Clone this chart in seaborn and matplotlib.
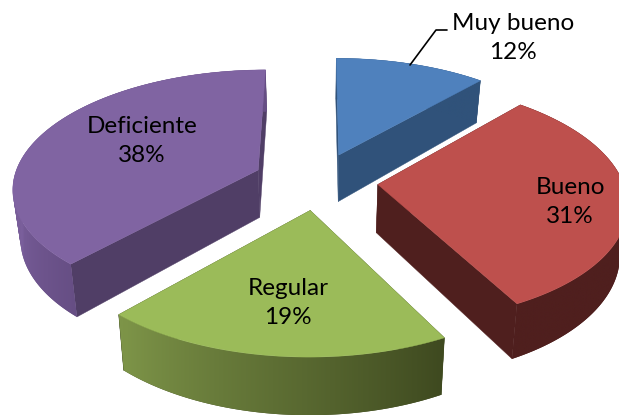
import numpy as np
import matplotlib
matplotlib.use("Agg")
import matplotlib.pyplot as plt
from matplotlib.patches import PathPatch
from matplotlib.path import Path
import seaborn as sns

categories = ["Muy bueno", "Bueno", "Regular", "Deficiente"]
shares = [11.6, 30.7, 19.4, 38.3]
percents = [12, 31, 19, 38]

top_colors = sns.color_palette(["#4F81BD", "#BE504D", "#9BBB59", "#8064A2"])
wall_colors = ["#30527A", "#4F1F1E", "#3F4A20", "#503E66"]
# outer wall colour along the part of each slice's rim that faces the viewer
outer_from = ["#30527A", "#4F1F1E", "#3F4A20", "#664E84"]
outer_to = ["#30527A", "#4F1F1E", "#7D9448", "#7E62A0"]
label_xy = [(513, 38), (570, 202), (288, 303), (142, 141)]
explode = [0.245, 0.245, 0.245, 0.265]

CX, CY = 318, 181      # pie centre on the canvas
AX, AY = 245, 117      # radii of the ellipse
PERSP = 0.14           # perspective strength
DEPTH = 48             # thickness
SHRINK = 0.975         # lower face is slightly narrower

sns.set_theme(style="white")
plt.rcParams["font.family"] = ["Lato", "DejaVu Sans"]
fig = plt.figure(figsize=(6.19, 4.15), dpi=100)
ax = fig.add_axes([0, 0, 1, 1])
ax.axis("off")


def project(X, Y, low=False):
    w = 1 / (1 - PERSP * Y)
    sx, sy = X * w * AX, Y * w * AY
    if low:
        return CX + sx * SHRINK, CY + sy + DEPTH * w
    return CX + sx, CY + sy


def blend(c0, c1, t):
    a = np.array(matplotlib.colors.to_rgb(c0))
    b = np.array(matplotlib.colors.to_rgb(c1))
    return a + (b - a) * t


def ring(pts):
    """Closed path with a fixed winding, so that overlapping parts add up."""
    x, y = pts[:, 0], pts[:, 1]
    area = np.sum(x * np.roll(y, -1) - np.roll(x, -1) * y)
    if area < 0:
        pts = pts[::-1]
    return Path(np.vstack([pts, pts[0]]), closed=True)


fractions = np.array(shares) / sum(shares)
edges = np.concatenate([[0], np.cumsum(fractions)]) * 2 * np.pi
for i in range(len(categories)):
    t0, t1 = edges[i], edges[i + 1]
    mid = (t0 + t1) / 2
    ox, oy = explode[i] * np.sin(mid), -explode[i] * np.cos(mid)
    th = np.linspace(t0, t1, 240)
    X, Y = ox + np.sin(th), oy - np.cos(th)
    tx, ty = project(X, Y)
    bx, by = project(X, Y, low=True)
    apx, apy = project(ox, oy)
    abx, aby = project(ox, oy, low=True)
    # radial walls
    for j in (0, -1):
        ax.fill([apx, tx[j], bx[j], abx], [apy, ty[j], by[j], aby],
                color=wall_colors[i], lw=0.3, zorder=2 + i)
    # outer wall outline: the union of the small strips between both faces
    parts = [ring(np.array([[tx[k], ty[k]], [tx[k + 1], ty[k + 1]],
                            [bx[k + 1], by[k + 1]], [bx[k], by[k]]]))
             for k in range(len(th) - 1)]
    outline = Path.make_compound_path(*parts)
    base = PathPatch(outline, transform=ax.transData, facecolor=outer_from[i],
                     edgecolor="none", zorder=2 + i)
    ax.add_patch(base)
    # colour ramp over the rim part that faces the viewer
    vis = (th > np.pi / 2) & (th < 3 * np.pi / 2)
    xmin, xmax = outline.vertices[:, 0].min(), outline.vertices[:, 0].max()
    ymin, ymax = outline.vertices[:, 1].min(), outline.vertices[:, 1].max()
    gx = np.linspace(xmin, xmax, 256)
    if vis.any():
        vx = bx[vis]
        order = np.argsort(vx)
        param = np.interp(gx, vx[order], np.linspace(0, 1, vis.sum())[order])
    else:
        param = np.zeros_like(gx)
    grad = np.array([[blend(outer_from[i], outer_to[i], p) for p in param]])
    im = ax.imshow(grad, extent=(xmin, xmax, ymax, ymin), aspect="auto",
                   interpolation="bilinear", zorder=2 + i)
    im.set_clip_path(base)
    # top face
    ax.fill(np.r_[apx, tx], np.r_[apy, ty], color=top_colors[i], lw=0.3, zorder=3 + i)
    ax.text(label_xy[i][0], label_xy[i][1], f"{categories[i]}\n{percents[i]}%",
            ha="center", va="center", fontsize=17.5, color="black",
            linespacing=1.5, zorder=20)

ax.plot([410, 436, 447], [65, 30, 30], color="black", lw=1.2, zorder=21)
ax.set_xlim(0, 619)
ax.set_ylim(415, 0)
fig.savefig("out.png", dpi=100)
